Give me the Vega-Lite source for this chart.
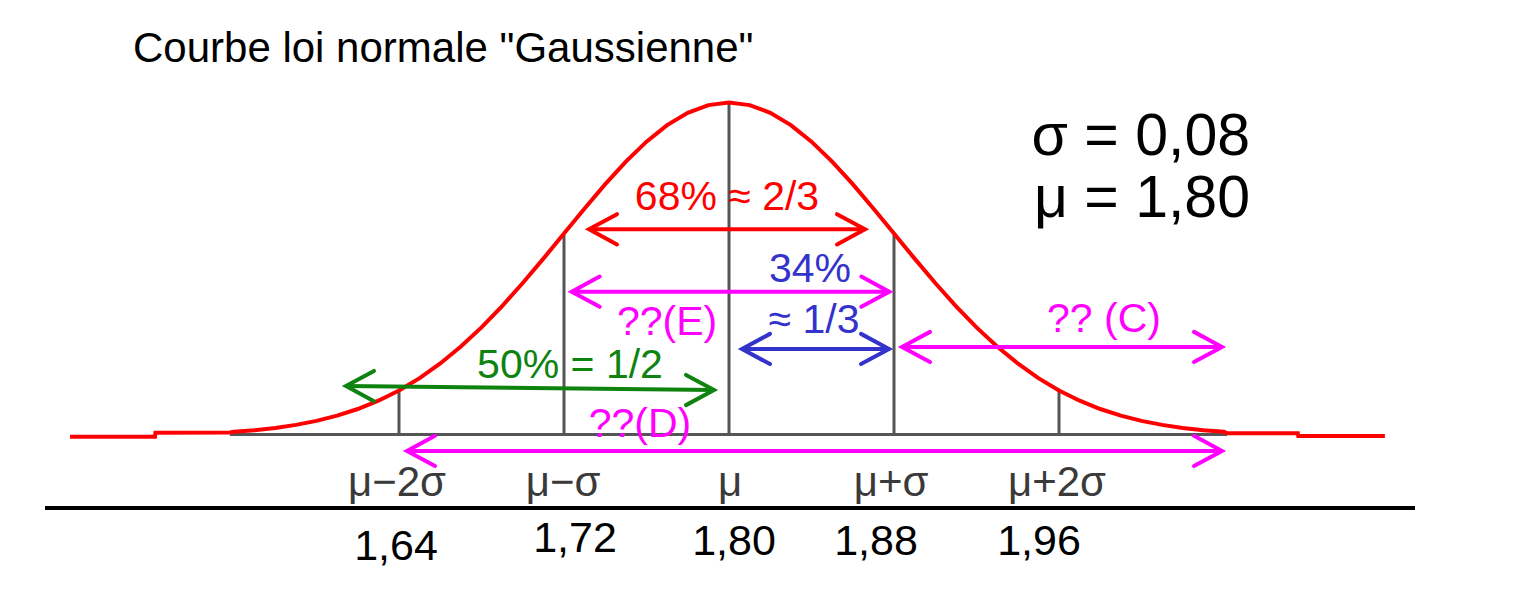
{
  "$schema": "https://vega.github.io/schema/vega-lite/v6.json",
  "width": 1521,
  "height": 596,
  "padding": 0,
  "autosize": {"type": "none"},
  "background": "white",
  "config": {"view": {"stroke": null}, "text": {"font": "Liberation Sans"}},
  "datasets": {
    "curve": [
      {"x": 1.4805, "y": -0.36}, {"x": 1.5217, "y": -0.36}, {"x": 1.5219, "y": 0.84}, {"x": 1.558, "y": 0.9},
      {"x": 1.56, "y": 1.11}, {"x": 1.57, "y": 1.6}, {"x": 1.58, "y": 2.28}, {"x": 1.59, "y": 3.19},
      {"x": 1.6, "y": 4.39}, {"x": 1.61, "y": 5.96}, {"x": 1.62, "y": 7.96}, {"x": 1.63, "y": 10.46},
      {"x": 1.64, "y": 13.53}, {"x": 1.65, "y": 17.24}, {"x": 1.66, "y": 21.63}, {"x": 1.67, "y": 26.71},
      {"x": 1.68, "y": 32.47}, {"x": 1.69, "y": 38.86}, {"x": 1.7, "y": 45.78}, {"x": 1.71, "y": 53.11},
      {"x": 1.72, "y": 60.65}, {"x": 1.73, "y": 68.19}, {"x": 1.74, "y": 75.48}, {"x": 1.75, "y": 82.26},
      {"x": 1.76, "y": 88.25}, {"x": 1.77, "y": 93.21}, {"x": 1.78, "y": 96.92}, {"x": 1.79, "y": 99.22},
      {"x": 1.8, "y": 100},
      {"x": 1.81, "y": 99.22}, {"x": 1.82, "y": 96.92}, {"x": 1.83, "y": 93.21}, {"x": 1.84, "y": 88.25},
      {"x": 1.85, "y": 82.26}, {"x": 1.86, "y": 75.48}, {"x": 1.87, "y": 68.19}, {"x": 1.88, "y": 60.65},
      {"x": 1.89, "y": 53.11}, {"x": 1.9, "y": 45.78}, {"x": 1.91, "y": 38.86}, {"x": 1.92, "y": 32.47},
      {"x": 1.93, "y": 26.71}, {"x": 1.94, "y": 21.63}, {"x": 1.95, "y": 17.24}, {"x": 1.96, "y": 13.53},
      {"x": 1.97, "y": 10.46}, {"x": 1.98, "y": 7.96}, {"x": 1.99, "y": 5.96}, {"x": 2.0, "y": 4.39},
      {"x": 2.01, "y": 3.19}, {"x": 2.02, "y": 2.28}, {"x": 2.03, "y": 1.6}, {"x": 2.04, "y": 1.11},
      {"x": 2.0415, "y": 0.66}, {"x": 2.0758, "y": 0.66}, {"x": 2.076, "y": -0.15}, {"x": 2.118, "y": -0.15}
    ],
    "ticks": [
      {"x": 1.64, "y": 0, "y2": 13.3},
      {"x": 1.72, "y": 0, "y2": 60.3},
      {"x": 1.8, "y": 0, "y2": 100},
      {"x": 1.88, "y": 0, "y2": 60.3},
      {"x": 1.96, "y": 0, "y2": 13.3}
    ],
    "baseline": [{"x": 1.558, "x2": 2.0415, "y": 0.3}],
    "axisline": [{"x": 1.46836, "x2": 2.13261, "y": -21.77}],
    "arrows": [
      {"c": "rouge", "x": 1.73212, "x2": 1.86594, "y": 61.92, "y2": 61.92},
      {"c": "magenta", "x": 1.72373, "x2": 1.87772, "y": 43.18, "y2": 43.18},
      {"c": "bleu", "x": 1.8063, "x2": 1.87758, "y": 25.98, "y2": 25.98},
      {"c": "vert", "x": 1.6143, "x2": 1.79273, "y": 14.86, "y2": 13.66},
      {"c": "magenta", "x": 1.88388, "x2": 2.03903, "y": 26.58, "y2": 26.58},
      {"c": "magenta", "x": 1.64388, "x2": 2.03903, "y": -4.65, "y2": -4.65}
    ],
    "heads": [
      {"c": "rouge", "dir": "g", "x": 1.73212, "y": 61.92},
      {"c": "rouge", "dir": "d", "x": 1.86594, "y": 61.92},
      {"c": "magenta", "dir": "g", "x": 1.72373, "y": 43.18},
      {"c": "magenta", "dir": "d", "x": 1.87772, "y": 43.18},
      {"c": "bleu", "dir": "g", "x": 1.8063, "y": 25.98},
      {"c": "bleu", "dir": "d", "x": 1.87758, "y": 25.98},
      {"c": "vert", "dir": "g", "x": 1.6143, "y": 14.86},
      {"c": "vert", "dir": "d", "x": 1.79273, "y": 13.66},
      {"c": "magenta", "dir": "g", "x": 1.88388, "y": 26.58},
      {"c": "magenta", "dir": "d", "x": 2.03903, "y": 26.58},
      {"c": "magenta", "dir": "g", "x": 1.64388, "y": -4.65},
      {"c": "magenta", "dir": "d", "x": 2.03903, "y": -4.65}
    ],
    "notes": [
      {"t": "68% ≈ 2/3", "c": "rouge", "x": 1.79903, "y": 67.72},
      {"t": "34%", "c": "bleu", "x": 1.83927, "y": 46.1},
      {"t": "≈ 1/3", "c": "bleu", "x": 1.84121, "y": 30.78},
      {"t": "??(E)", "c": "magenta", "x": 1.76994, "y": 30.18},
      {"t": "50% = 1/2", "c": "vert", "x": 1.72291, "y": 17.27},
      {"t": "??(D)", "c": "magenta", "x": 1.75685, "y": -0.45},
      {"t": "?? (C)", "c": "magenta", "x": 1.98182, "y": 31.08}
    ],
    "labels": [
      {"t": "μ−2σ", "x": 1.63903, "y": -18.17},
      {"t": "μ−σ", "x": 1.71952, "y": -18.17},
      {"t": "μ", "x": 1.80048, "y": -18.17},
      {"t": "μ+σ", "x": 1.87855, "y": -18.17},
      {"t": "μ+2σ", "x": 1.95903, "y": -18.17}
    ],
    "numbers": [
      {"t": "1,64", "x": 1.63855, "y": -37.39},
      {"t": "1,72", "x": 1.72533, "y": -34.98},
      {"t": "1,80", "x": 1.80242, "y": -35.89},
      {"t": "1,88", "x": 1.87127, "y": -35.89},
      {"t": "1,96", "x": 1.9503, "y": -35.89}
    ],
    "params": [
      {"t": "σ = 0,08", "x": 2.05261, "y": 84.23},
      {"t": "μ = 1,80", "x": 2.05261, "y": 65.62}
    ],
    "title": [{"t": "Courbe loi normale \"Gaussienne\"", "x": 1.51103, "y": 112.16}]
  },
  "encoding": {
    "x": {"field": "x", "type": "quantitative", "scale": {"domain": [1.446545, 2.184], "nice": false, "zero": false}, "axis": null},
    "y": {"field": "y", "type": "quantitative", "scale": {"domain": [-48.198, 130.781], "nice": false, "zero": false}, "axis": null}
  },
  "layer": [
    {
      "data": {"name": "axisline"},
      "mark": {"type": "rule", "color": "#000000", "strokeWidth": 4},
      "encoding": {"x2": {"field": "x2"}}
    },
    {
      "data": {"name": "baseline"},
      "mark": {"type": "rule", "color": "#555555", "strokeWidth": 3},
      "encoding": {"x2": {"field": "x2"}}
    },
    {
      "data": {"name": "ticks"},
      "mark": {"type": "rule", "color": "#555555", "strokeWidth": 3},
      "encoding": {"y2": {"field": "y2"}}
    },
    {
      "data": {"name": "curve"},
      "mark": {"type": "line", "color": "#ff0000", "strokeWidth": 4},
      "encoding": {}
    },
    {
      "data": {"name": "arrows"},
      "mark": {"type": "rule", "strokeWidth": 4},
      "encoding": {
        "x2": {"field": "x2"},
        "y2": {"field": "y2"},
        "color": {"field": "c", "type": "nominal", "scale": {"domain": ["rouge", "magenta", "bleu", "vert"], "range": ["#ff0000", "#ff00ff", "#3333cc", "#0f830f"]}, "legend": null}
      }
    },
    {
      "data": {"name": "heads"},
      "mark": {"type": "point", "filled": false, "strokeWidth": 4, "opacity": 1, "size": 3136, "strokeCap": "round", "strokeJoin": "miter"},
      "encoding": {
        "shape": {"field": "dir", "type": "nominal", "scale": {"domain": ["g", "d"], "range": ["M1,-0.54L0,0L1,0.54", "M-1,-0.54L0,0L-1,0.54"]}, "legend": null},
        "color": {"field": "c", "type": "nominal", "scale": {"domain": ["rouge", "magenta", "bleu", "vert"], "range": ["#ff0000", "#ff00ff", "#3333cc", "#0f830f"]}, "legend": null}
      }
    },
    {
      "data": {"name": "notes"},
      "mark": {"type": "text", "fontSize": 41, "align": "center", "baseline": "alphabetic"},
      "encoding": {
        "text": {"field": "t"},
        "color": {"field": "c", "type": "nominal", "scale": {"domain": ["rouge", "magenta", "bleu", "vert"], "range": ["#ff0000", "#ff00ff", "#3333cc", "#0f830f"]}, "legend": null}
      }
    },
    {
      "data": {"name": "labels"},
      "mark": {"type": "text", "fontSize": 42, "align": "center", "baseline": "alphabetic", "color": "#3a3a3a"},
      "encoding": {"text": {"field": "t"}}
    },
    {
      "data": {"name": "numbers"},
      "mark": {"type": "text", "fontSize": 43, "align": "center", "baseline": "alphabetic", "color": "#000000"},
      "encoding": {"text": {"field": "t"}}
    },
    {
      "data": {"name": "params"},
      "mark": {"type": "text", "fontSize": 59, "align": "right", "baseline": "alphabetic", "color": "#000000"},
      "encoding": {"text": {"field": "t"}}
    },
    {
      "data": {"name": "title"},
      "mark": {"type": "text", "fontSize": 42, "align": "left", "baseline": "alphabetic", "color": "#000000"},
      "encoding": {"text": {"field": "t"}}
    }
  ]
}
